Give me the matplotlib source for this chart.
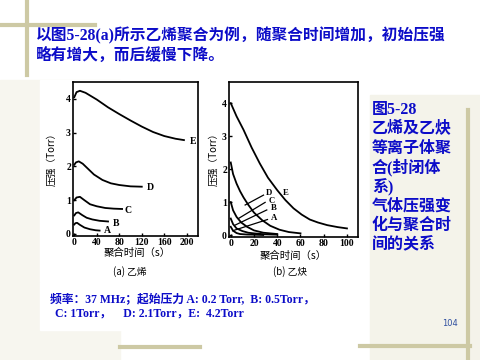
import matplotlib
matplotlib.use("Agg")
import matplotlib.pyplot as plt
from matplotlib.patches import Rectangle

plt.rcParams['font.family'] = ['Noto Sans CJK SC', 'DejaVu Sans']

# (a) 乙烯 曲线数据
eth_labels = ["A", "B", "C", "D", "E"]
eth_x = {
    "E": [0, 4, 10, 20, 40, 60, 80, 100, 120, 140, 160, 180, 195],
    "D": [0, 3, 8, 15, 25, 35, 50, 65, 80, 100, 120],
    "C": [0, 4, 10, 18, 28, 40, 55, 70, 85],
    "B": [0, 3, 7, 14, 22, 32, 45, 60],
    "A": [0, 2, 5, 10, 18, 28, 38, 45],
}
eth_y = {
    "E": [4.05, 4.2, 4.24, 4.18, 3.98, 3.75, 3.55, 3.36, 3.18, 3.02, 2.9, 2.82, 2.78],
    "D": [2.05, 2.12, 2.15, 2.08, 1.92, 1.76, 1.6, 1.5, 1.45, 1.41, 1.40],
    "C": [1.0, 1.08, 1.1, 1.0, 0.88, 0.82, 0.77, 0.75, 0.74],
    "B": [0.55, 0.62, 0.64, 0.56, 0.48, 0.43, 0.39, 0.37],
    "A": [0.28, 0.32, 0.33, 0.27, 0.19, 0.14, 0.11, 0.1],
}
eth_lab_pos = {"E": (206, 2.74), "D": (129, 1.37), "C": (90, 0.69), "B": (68, 0.32), "A": (53, 0.1)}

# (b) 乙炔 曲线数据
ace_x = {
    "E": [0, 5, 11, 18, 25, 32, 40, 47, 54, 61, 68, 75, 83, 92, 100],
    "D": [0, 2, 5, 8, 11, 15, 20, 27, 34, 42, 50, 60],
    "C": [0, 2, 5, 9, 14, 20, 28, 40],
    "B": [0, 2, 5, 10, 15, 20, 30, 40],
    "A": [0, 2, 5, 8, 14, 20, 28],
}
ace_y = {
    "E": [4.0, 3.6, 3.19, 2.65, 2.17, 1.74, 1.36, 1.06, 0.81, 0.62, 0.47, 0.38, 0.30, 0.24, 0.2],
    "D": [2.2, 1.85, 1.56, 1.33, 1.14, 0.92, 0.68, 0.45, 0.28, 0.16, 0.09, 0.05],
    "C": [1.0, 0.75, 0.55, 0.38, 0.25, 0.14, 0.07, 0.03],
    "B": [0.5, 0.33, 0.2, 0.12, 0.07, 0.05, 0.02, 0.01],
    "A": [0.25, 0.13, 0.06, 0.03, 0.015, 0.01, 0.0],
}
# 标签位置 和 引线 (起点 -> 终点)
ace_lab_pos = {"E": (44.8, 1.28), "D": (30.5, 1.27), "C": (32.5, 1.04), "B": (34.5, 0.81), "A": (34.5, 0.52)}
ace_leader = {"D": ((12.4, 0.91), (28.2, 1.21)), "C": ((6.6, 0.5), (29.6, 0.99)),
              "B": ((3.7, 0.3), (31, 0.76)), "A": ((1.7, 0.13), (31.6, 0.47))}

blue = "#0c0cc8"
serif = ['Liberation Serif', 'Noto Sans CJK SC']
vine = "#cdc9a4"

fig = plt.figure(figsize=(4.8, 3.6), dpi=100)
fig.patch.set_facecolor("white")

# 背景装饰
def bg_rect(x, y, w, h, c):
    fig.patches.append(Rectangle((x/480, 1-(y+h)/360), w/480, h/360, transform=fig.transFigure,
                                 color=c, zorder=-10))

bg_rect(370, 95, 110, 265, "#f4f3ea")
bg_rect(0, 80, 120, 280, "#f7f6ef")
bg_rect(40, 80, 320, 202, "white")
bg_rect(40, 282, 300, 48, "white")
fig.add_artist(plt.Line2D([0, 95/480], [1-25/360, 1-25/360], color=vine, lw=3, zorder=-5))
fig.add_artist(plt.Line2D([27/480, 27/480], [1, 1-75/360], color=vine, lw=3, zorder=-5))
fig.add_artist(plt.Line2D([468/480, 468/480], [1-110/360, 0], color=vine, lw=3, zorder=-5))
fig.add_artist(plt.Line2D([360/480, 470/480], [1-346/360, 1-346/360], color=vine, lw=3, zorder=-5))
fig.add_artist(plt.Line2D([120/480, 200/480], [1-347/360, 1-347/360], color=vine, lw=3, zorder=-5))

def style_ax(ax, xticks, yticks):
    ax.set_xticks(xticks)
    ax.set_yticks(yticks)
    ax.tick_params(direction="in", length=2.5, width=1, labelsize=7, pad=1.5)
    for lab in ax.get_xticklabels() + ax.get_yticklabels():
        lab.set_family(serif)
        lab.set_fontweight("bold")
    for s in ax.spines.values():
        s.set_linewidth(1.2)

# 左图
ax1 = fig.add_axes([73/480, 1-236/360, 125/480, 154/360])
for k in eth_labels:
    ax1.plot(eth_x[k], eth_y[k], color="black", lw=1.3)
    ax1.text(*eth_lab_pos[k], k, fontsize=7, family=serif, fontweight="bold", va="center")
ax1.set_xlim(-2.3, 220)
ax1.set_ylim(-0.06, 4.5)
style_ax(ax1, [0, 40, 80, 120, 160, 200], [0, 1, 2, 3, 4])

# 右图
ax2 = fig.add_axes([229/480, 1-237/360, 129/480, 155/360])
for k in eth_labels:
    ax2.plot(ace_x[k], ace_y[k], color="black", lw=1.3)
    ax2.text(*ace_lab_pos[k], k, fontsize=6.3, family=serif, fontweight="bold", va="center")
for k, (p0, p1) in ace_leader.items():
    ax2.plot([p0[0], p1[0]], [p0[1], p1[1]], color="black", lw=0.9)
ax2.set_xlim(-1.5, 109.5)
ax2.set_ylim(-0.06, 4.64)
style_ax(ax2, [0, 20, 40, 60, 80, 100], [0, 1, 2, 3, 4])

# 轴标题
fig.text(52/480, 1-157/360, "压强（Torr）", rotation=90, fontsize=7, ha="center", va="center")
fig.text(213/480, 1-157/360, "压强（Torr）", rotation=90, fontsize=7, ha="center", va="center")
fig.text(137/480, 1-253/360, "聚合时间（s）", fontsize=7.5, ha="center", va="center")
fig.text(130/480, 1-272/360, "(a) 乙烯", fontsize=7, ha="center", va="center")
fig.text(293/480, 1-256/360, "聚合时间（s）", fontsize=7.5, ha="center", va="center")
fig.text(290/480, 1-272/360, "(b) 乙炔", fontsize=7, ha="center", va="center")

# 幻灯片文字
fig.text(36/480, 1-36/360, "以图5-28(a)所示乙烯聚合为例，随聚合时间增加，初始压强",
         fontsize=11.3, color=blue, fontweight="bold", va="center", family=serif)
fig.text(36/480, 1-57/360, "略有增大，而后缓慢下降。",
         fontsize=11.3, color=blue, fontweight="bold", va="center", family=serif)

side = ["图5-28", "乙烯及乙炔", "等离子体聚", "合(封闭体", "系)", "气体压强变", "化与聚合时", "间的关系"]
for i, line in enumerate(side):
    fig.text(372/480, 1-(110 + i*19.3)/360, line, fontsize=11.5, color=blue,
             fontweight="bold", va="center", family=serif)

fig.text(50/480, 1-299/360, "频率：37 MHz；起始压力 A: 0.2 Torr,  B: 0.5Torr，",
         fontsize=8.5, color=blue, fontweight="bold", va="center", family=serif)
fig.text(55/480, 1-314/360, "C: 1Torr，    D: 2.1Torr，E:  4.2Torr",
         fontsize=8.5, color=blue, fontweight="bold", va="center", family=serif)
fig.text(450/480, 1-323/360, "104", fontsize=6, color="#3050a0", ha="center", va="center",
         family="DejaVu Sans")

plt.savefig("out.png", dpi=100)
